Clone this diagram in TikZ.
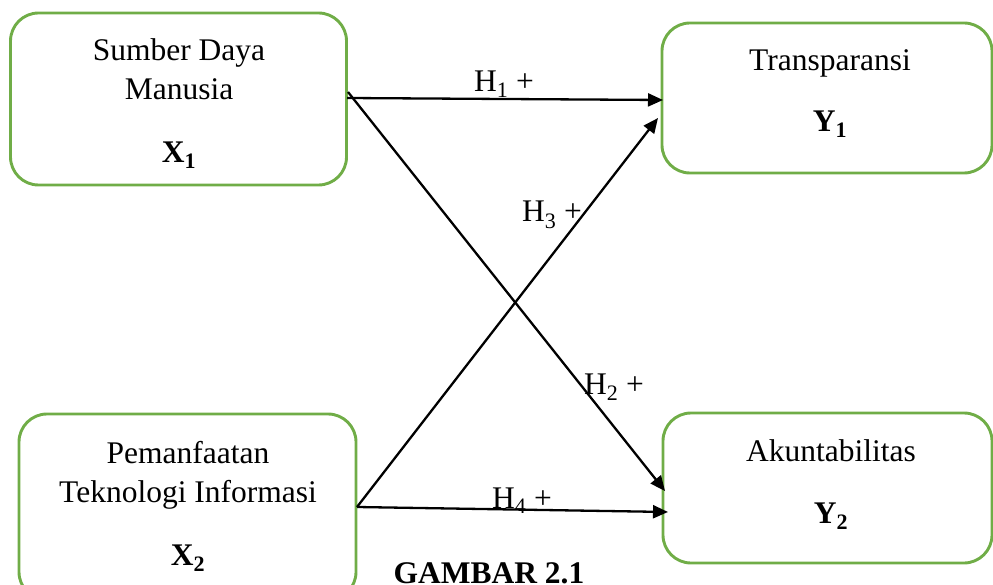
\documentclass[tikz,border=0pt]{standalone}
\usepackage{fontspec}
\setmainfont{Liberation Serif}
\usetikzlibrary{arrows.meta}
\definecolor{boxgreen}{HTML}{70AD47}
\begin{document}
\begin{tikzpicture}[x=1pt,y=-1pt,
  varbox/.style={draw=boxgreen, line width=2.9pt, rounded corners=28pt, rectangle, inner sep=0pt},
  lbl/.style={inner sep=0pt, anchor=base, font=\fontsize{31.5}{38}\selectfont},
  blbl/.style={lbl, font=\fontsize{31.5}{38}\selectfont\bfseries},
  conn/.style={line width=2.3pt, -{Triangle[length=15pt,width=13pt]}}
]
\useasboundingbox (0,0) rectangle (993,585);
\clip (0,0) rectangle (993,585);
% boxes
\node[varbox, minimum width=336pt, minimum height=172pt] (x1) at (178.5,99) {};
\node[varbox, minimum width=330pt, minimum height=150pt] (y1) at (827,98) {};
\node[varbox, minimum width=337pt, minimum height=186pt] (x2) at (187.5,507) {};
\node[varbox, minimum width=329pt, minimum height=150pt] (y2) at (827.5,488) {};
% texts
\node[lbl] (x1a) at (179,61) {Sumber Daya};
\node[lbl] (x1b) at (179,100) {Manusia};
\node[blbl] (x1c) at (179,163) {X\textsubscript{1}};
\node[lbl] (y1a) at (830,71) {Transparansi};
\node[blbl] (y1c) at (830,132) {Y\textsubscript{1}};
\node[lbl] (x2a) at (188,463) {Pemanfaatan};
\node[lbl] (x2b) at (188,502) {Teknologi Informasi};
\node[blbl] (x2c) at (188,565) {X\textsubscript{2}};
\node[lbl] (y2a) at (831,461) {Akuntabilitas};
\node[blbl] (y2c) at (831,523) {Y\textsubscript{2}};
% connector end points
\coordinate (s1) at (347,98);
\coordinate (s2) at (348,92);
\coordinate (s3) at (357,507);
\coordinate (e1) at (663,100);
\coordinate (e2) at (665,491);
\coordinate (e3) at (658,118);
\coordinate (e4) at (668,512);
% connectors
\draw[conn] (s1) -- (e1);
\draw[conn] (s2) -- (e2);
\draw[conn] (s3) -- (e3);
\draw[conn] (s3) -- (e4);
% labels
\node[lbl] (h1) at (504,92) {H\textsubscript{1} +};
\node[lbl] (h3) at (552,222) {H\textsubscript{3} +};
\node[lbl] (h2) at (614,394) {H\textsubscript{2} +};
\node[lbl] (h4) at (522,508) {H\textsubscript{4} +};
\node[blbl] (cap) at (489,583) {GAMBAR 2.1};
\end{tikzpicture}
\end{document}
